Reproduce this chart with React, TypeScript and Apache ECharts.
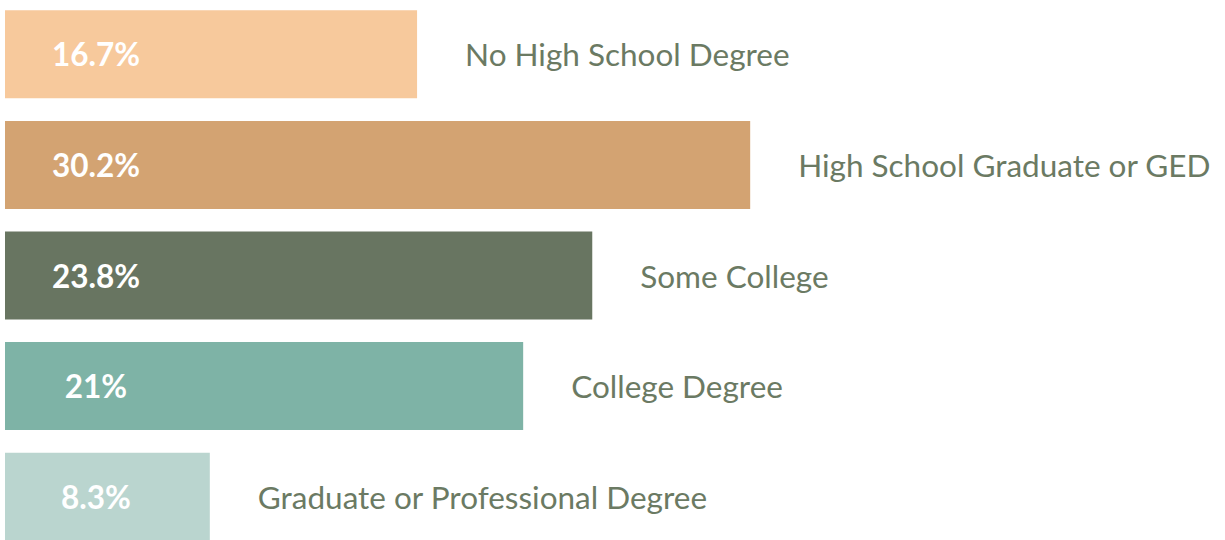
import React, { useEffect, useRef } from "react";
import * as echarts from "echarts";

const categories = [
  "No High School Degree",
  "High School Graduate or GED",
  "Some College",
  "College Degree",
  "Graduate or Professional Degree",
];
const values = [16.7, 30.2, 23.8, 21, 8.3];
const colors = ["#F7C99C", "#D3A372", "#687561", "#7EB3A6", "#BAD5CF"];

export default function App() {
  const ref = useRef<HTMLDivElement>(null);
  useEffect(() => {
    if (!ref.current) return;
    const chart = echarts.init(ref.current, null, { renderer: "svg" });
    chart.setOption({
      animation: false,
      grid: { left: 5, width: 987, top: 0, bottom: 0, containLabel: false, outerBoundsMode: "none" },
      xAxis: { type: "value", min: 0, max: 40, show: false },
      yAxis: {
        type: "category",
        data: categories,
        inverse: true,
        show: false,
      },
      series: [
        {
          type: "bar",
          barWidth: 88,
          data: values.map((v, i) => ({ value: v, itemStyle: { color: colors[i] } })),
          label: {
            show: true,
            position: [91, "50%"],
            align: "center",
            verticalAlign: "middle",
            formatter: "{c}%",
            color: "#ffffff",
            fontFamily: "Lato",
            fontWeight: "bold",
            fontSize: 31.5,
          },
        },
        {
          type: "bar",
          barWidth: 88,
          barGap: "-100%",
          silent: true,
          data: values,
          itemStyle: { color: "rgba(0,0,0,0)" },
          label: {
            show: true,
            position: "right",
            distance: 48,
            formatter: "{b}",
            color: "#6B7A63",
            fontFamily: "Lato",
            fontSize: 31.5,
          },
        },
      ],
    });
    return () => chart.dispose();
  }, []);
  return (
    <div
      style={{ position: "absolute", left: 0, top: 0, width: 1225, height: 540, background: "#fff", overflow: "hidden" }}
    >
      <div ref={ref} style={{ position: "absolute", left: 0, top: -1, width: 1225, height: 553 }} />
    </div>
  );
}
